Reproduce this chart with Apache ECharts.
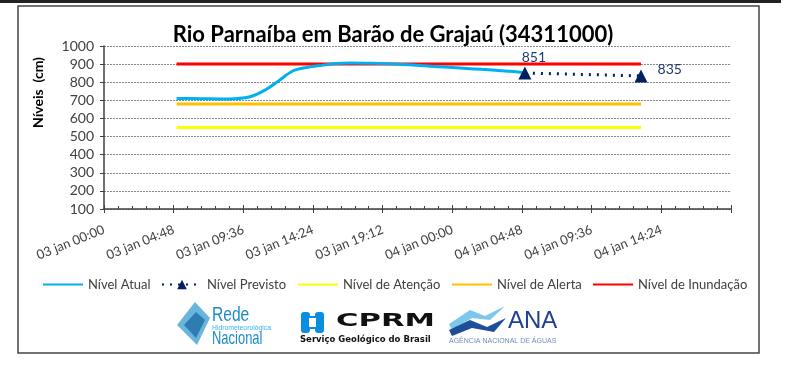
<!DOCTYPE html>
<html>
<head>
<meta charset="utf-8">
<script src="https://cdn.jsdelivr.net/npm/echarts@6/dist/echarts.min.js"></script>
<style>
html,body{margin:0;padding:0;background:#fff;}
#c{width:790px;height:372px;}
</style>
</head>
<body>
<div id="c"></div>
<script>
// hours since 03 jan 00:00
var atualHours = [5,6,7,8,9,10,11,12,13,14,15,16,17,18,19,20,21,22,23,24,25,26,27,28,29];
var atualValues = [710,710,709,708,709,718,752,805,862,882,893,903,906,905,903,900,896,891,886,881,876,871,866,860,851];
var previstoHours = [29,37];
var previstoValues = [851,835];
var limiteHours = [5,37];
var atencao = 550;
var alerta = 680;
var inundacao = 900;
var xTickStep = 4.8;
var xMax = 43.2;
var yTicks = [100,200,300,400,500,600,700,800,900,1000];
var legendNames = ['Nível Atual','Nível Previsto','Nível de Atenção','Nível de Alerta','Nível de Inundação'];

var FONT = 'Lato, "Open Sans", sans-serif';
function fmtHour(h){
  var total = Math.round(h*60);
  var day = 3 + Math.floor(total/1440);
  var rem = total % 1440;
  var hh = Math.floor(rem/60), mm = rem%60;
  function p(n){return (n<10?'0':'')+n;}
  return p(day)+' jan '+p(hh)+':'+p(mm);
}
function pairs(xs, ys){ return xs.map(function(x,i){return [x, ys[i]];}); }
function flat(xs, v){ return xs.map(function(x){return [x, v];}); }

var chart = echarts.init(document.getElementById('c'), null, {renderer:'canvas'});
var prevData = pairs(previstoHours, previstoValues).map(function(d,i){
  return {value:d, label:(i===0?{position:'top',offset:[9,3]}:{position:'right',offset:[5,-6]})};
});
var legendLeft = [37,156,292,446,587];
var legends = legendNames.map(function(n,i){
  var item = {name:n};
  if (i!==1) item.itemStyle = {opacity:0};
  return {left:legendLeft[i], top:273, itemWidth:40, itemHeight:12,
    textStyle:{fontFamily:FONT, fontSize:13, color:'#404040'}, data:[item]};
});
chart.setOption({
  animation:false,
  backgroundColor:'#fff',
  textStyle:{fontFamily:FONT},
  title:{text:'Rio Parnaíba em Barão de Grajaú (34311000)', left:388, top:19, textAlign:'center',
    textStyle:{fontFamily:FONT, fontWeight:'bold', fontSize:22, color:'#000'}},
  grid:{left:104, right:59, top:46, bottom:163, containLabel:false},
  legend:legends,
  xAxis:[{
    type:'value', min:0, max:xMax, interval:xTickStep,
    axisLine:{show:true, onZero:false, lineStyle:{color:'#404040', width:1.5}},
    axisTick:{show:true, inside:true, length:4, lineStyle:{color:'#404040'}},
    minorTick:{show:true, splitNumber:5, length:3, lineStyle:{color:'#404040'}},
    splitLine:{show:false},
    axisLabel:{rotate:22, margin:20, fontFamily:FONT, fontSize:13, color:'#404040', formatter:fmtHour, showMaxLabel:false}
  },{
    type:'value', min:0, max:xMax, interval:xTickStep, position:'bottom',
    axisLine:{show:false}, axisTick:{show:true, length:4, lineStyle:{color:'#404040'}},
    axisLabel:{show:false}, splitLine:{show:false}
  }],
  yAxis:{
    type:'value', min:yTicks[0], max:yTicks[yTicks.length-1], interval:100,
    name:'Níveis  (cm)', nameLocation:'middle', nameGap:59, nameRotate:90,
    nameTextStyle:{fontFamily:FONT, fontWeight:'bold', fontSize:14, color:'#000', padding:[0,0,0,70]},
    axisLine:{show:true, lineStyle:{color:'#404040', width:1.5}},
    axisTick:{show:true, length:4, lineStyle:{color:'#404040'}},
    axisLabel:{fontFamily:FONT, fontSize:14, color:'#404040', margin:10, formatter:function(v){return String(v);}},
    splitLine:{show:true, lineStyle:{color:'#888', type:[2,1], width:1}}
  },
  series:[
    {name:'Nível Atual', type:'line', data:pairs(atualHours, atualValues), symbol:'none', smooth:0.3,
      lineStyle:{color:'#00B0F0', width:3}, itemStyle:{color:'#00B0F0'}, z:4},
    {name:'Nível Previsto', type:'line', data:prevData, symbol:'triangle', symbolSize:13,
      lineStyle:{color:'#002060', width:3, type:[2,6]}, itemStyle:{color:'#002060'},
      label:{show:true, formatter:function(p){return p.value[1];}, fontFamily:FONT, fontSize:14, color:'#1F3C70'}, z:5},
    {name:'Nível de Atenção', type:'line', data:flat(limiteHours, atencao), symbol:'none',
      lineStyle:{color:'#FFFF00', width:3}, itemStyle:{color:'#FFFF00'}, z:2},
    {name:'Nível de Alerta', type:'line', data:flat(limiteHours, alerta), symbol:'none',
      lineStyle:{color:'#FFC000', width:3}, itemStyle:{color:'#FFC000'}, z:2},
    {name:'Nível de Inundação', type:'line', data:flat(limiteHours, inundacao), symbol:'none',
      lineStyle:{color:'#FF0000', width:3}, itemStyle:{color:'#FF0000'}, z:3}
  ],
  graphic:[
    {type:'rect', shape:{x:0,y:0,width:781,height:3}, style:{fill:'#222'}, silent:true},
    {type:'rect', shape:{x:18,y:6,width:741,height:347}, style:{fill:'none', stroke:'#444', lineWidth:1.5}, silent:true},
    // Rede Hidrometeorológica Nacional
    {type:'polygon', shape:{points:[[195,302],[210,318],[197,345],[177,325]]}, style:{fill:'#4FA8D6', opacity:0.85}},
    {type:'polygon', shape:{points:[[196,312],[205,320],[196,338],[184,325]]}, style:{fill:'#1F6FA8', opacity:0.8}},
    {type:'text', x:212, y:305, scaleX:0.78, style:{text:'Rede', font:'20px "Liberation Sans", sans-serif', fill:'#1C8CC8'}},
    {type:'text', x:212, y:324, scaleX:0.85, style:{text:'Hidrometeorológica', font:'8px "Liberation Sans", sans-serif', fill:'#35B4E8'}},
    {type:'text', x:212, y:330, scaleX:0.72, style:{text:'Nacional', font:'18px "Liberation Sans", sans-serif', fill:'#1C8CC8'}},
    // CPRM
    {type:'rect', shape:{x:301,y:312,width:9,height:21,r:3}, style:{fill:'#0A8FE0'}},
    {type:'rect', shape:{x:315,y:312,width:9,height:21,r:3}, style:{fill:'#0A8FE0'}},
    {type:'rect', shape:{x:306,y:316,width:13,height:13}, style:{fill:'#0A8FE0'}},
    {type:'rect', shape:{x:309,y:318,width:7,height:9}, style:{fill:'#fff'}},
    {type:'text', x:336, y:313, scaleX:1.8, style:{text:'CPRM', font:'900 17px "DejaVu Sans", sans-serif', fill:'#111'}},
    {type:'text', x:300, y:335, style:{text:'Serviço Geológico do Brasil', font:'bold 8.5px "DejaVu Sans", sans-serif', fill:'#111'}},
    // ANA
    {type:'polygon', shape:{points:[[449,324],[470,310],[485,316],[505,306],[490,320],[472,318],[452,330]]}, style:{fill:'#7CC8EC'}},
    {type:'polygon', shape:{points:[[449,330],[470,320],[487,327],[506,318],[494,332],[472,328],[452,336]]}, style:{fill:'#1E4E9A'}},
    {type:'text', x:508, y:309, style:{text:'ANA', font:'24px "Liberation Sans", sans-serif', fill:'#1F3F94'}},
    {type:'text', x:449, y:338, style:{text:'AGÊNCIA NACIONAL DE ÁGUAS', font:'7px "Liberation Sans", sans-serif', fill:'#6F8FB8'}}
  ]
});
</script>
</body>
</html>
